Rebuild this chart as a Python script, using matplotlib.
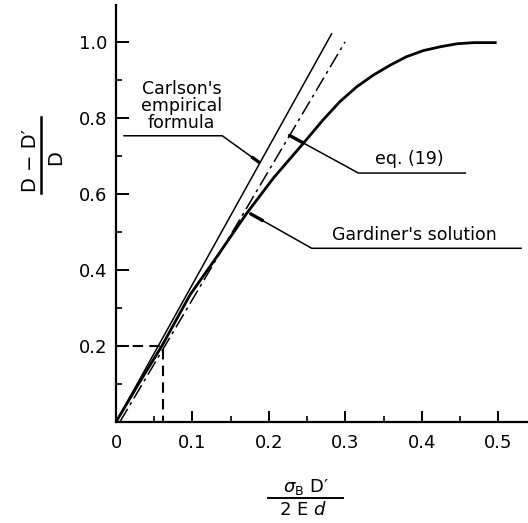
import matplotlib
matplotlib.use("Agg")
import matplotlib.pyplot as plt
from matplotlib.lines import Line2D
import numpy as np

# ---- data ----
gard_x = [0.0, 0.03, 0.06, 0.097, 0.132, 0.171, 0.206, 0.245, 0.271, 0.293, 0.315,
          0.337, 0.359, 0.380, 0.402, 0.424, 0.446, 0.468, 0.498]
gard_y = [0.0, 0.102, 0.20, 0.335, 0.435, 0.549, 0.642, 0.733, 0.795, 0.843, 0.882,
          0.913, 0.939, 0.961, 0.977, 0.987, 0.995, 0.998, 0.998]

carl_x = [0.0, 0.282]
carl_y = [0.0, 1.021]

eq19_x = [0.005, 0.2997]
eq19_y = [0.0, 1.0]

guide_x = [0.0, 0.061, 0.061]
guide_y = [0.2, 0.2, 0.0]

xticks = [0.0, 0.1, 0.2, 0.3, 0.4, 0.5]
xticklabels = ["0", "0.1", "0.2", "0.3", "0.4", "0.5"]
yticks = [0.2, 0.4, 0.6, 0.8, 1.0]
yticklabels = ["0.2", "0.4", "0.6", "0.8", "1.0"]

W, H = 528, 523
fig = plt.figure(figsize=(W / 100, H / 100), dpi=100)
ax = fig.add_axes([116 / W, 1 - 422 / H, (528 - 116) / W, (422 - 5) / H])
ax.set_xlim(0, 0.539)
ax.set_ylim(0, 1.097)

for s in ["top", "right"]:
    ax.spines[s].set_visible(False)
for s in ["left", "bottom"]:
    ax.spines[s].set_linewidth(1.6)

ax.plot(gard_x, gard_y, color="black", lw=2.0, solid_capstyle="butt", solid_joinstyle="round")
ax.plot(carl_x, carl_y, color="black", lw=1.1)
ax.plot(eq19_x, eq19_y, color="black", lw=1.1, linestyle=(0, (10, 3, 2, 3)))
ax.plot(guide_x, guide_y, color="black", lw=1.5, linestyle=(0, (5, 3)))

ax.set_xticks(xticks)
ax.set_xticklabels(xticklabels)
ax.set_yticks(yticks)
ax.set_yticklabels(yticklabels)
ax.set_xticks(np.arange(0.05, 0.54, 0.1), minor=True)
ax.set_yticks(np.arange(0.1, 1.0, 0.2), minor=True)
ax.tick_params(axis="both", which="major", direction="in", width=1.4, labelsize=13)
ax.tick_params(axis="y", which="major", length=9, pad=6)
ax.tick_params(axis="x", which="major", length=8, pad=9)
ax.tick_params(axis="both", which="minor", direction="in", width=1.2, length=4.5)


def leader(px, py):
    ax.plot(px, py, color="black", lw=1.1, clip_on=False)
    # thicker start next to the curve
    x0, y0 = px[-1] if False else px[0], py[0]
    x1, y1 = px[1], py[1]
    f = 0.22
    ax.plot([x0, x0 + f * (x1 - x0)], [y0, y0 + f * (y1 - y0)], color="black", lw=2.4,
            solid_capstyle="butt")


fs = 12.5
# Carlson annotation
leader([0.188, 0.139, 0.0105], [0.682, 0.753, 0.753])
ax.text(0.086, (422 - 106) / 380, "Carlson's\nempirical\nformula", ha="center", va="center",
        fontsize=fs, linespacing=0.95)
# eq.(19) annotation
leader([0.226, 0.317, 0.457], [0.755, 0.655, 0.655])
ax.text(0.384, 0.667, "eq. (19)", ha="center", va="bottom", fontsize=fs)
# Gardiner annotation
leader([0.175, 0.256, 0.53], [0.549, 0.457, 0.457])
ax.text(0.391, 0.467, "Gardiner's solution", ha="center", va="bottom", fontsize=fs)

# y label (fraction, rotated)
fig.text(31 / W, 1 - 160 / H, "D − D′", rotation=90, ha="center", va="center", fontsize=14)
fig.text(56 / W, 1 - 158 / H, "D", rotation=90, ha="center", va="center", fontsize=14)
fig.add_artist(Line2D([41 / W, 41 / W], [1 - 117 / H, 1 - 193 / H], color="black", lw=1.8,
                      transform=fig.transFigure))

# x label (fraction)
fig.text(306 / W, 1 - 487 / H, r"$\sigma_{\rm B}$ D′", ha="center", va="center", fontsize=13)
fig.text(303 / W, 1 - 510 / H, r"2 E $d$", ha="center", va="center", fontsize=13)
fig.add_artist(Line2D([268 / W, 343 / W], [1 - 498 / H, 1 - 498 / H], color="black", lw=1.4,
                      transform=fig.transFigure))

fig.savefig("out.png", dpi=100)
